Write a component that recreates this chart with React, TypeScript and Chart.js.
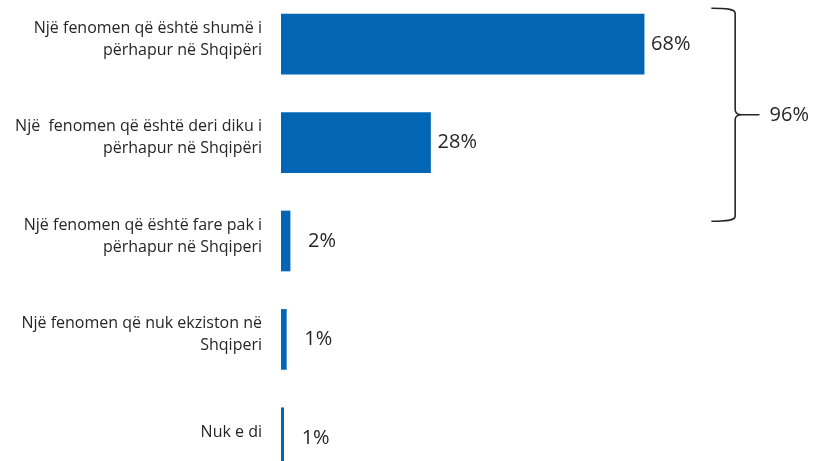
import React, { useEffect, useRef } from "react";
import { Chart, registerables } from "chart.js";

Chart.register(...registerables);

const categories: (string | string[])[] = [
  ["Një fenomen që është shumë i", "përhapur në Shqipëri"],
  ["Një  fenomen që është deri diku i", "përhapur në Shqipëri"],
  ["Një fenomen që është fare pak i", "përhapur në Shqiperi"],
  ["Një fenomen që nuk ekziston në", "Shqiperi"],
  "Nuk e di",
];
const values: number[] = [68, 28, 1.7, 1.0, 0.5];
const bracedIndices: number[] = [0, 1];

const BAR_COLOR = "#0366B4";
const TEXT_COLOR = "#262626";
const FONT = "'Open Sans', sans-serif";

const labelsPlugin = {
  id: "valueLabels",
  afterDatasetsDraw(chart: any) {
    const ctx = chart.ctx;
    const meta = chart.getDatasetMeta(0);
    ctx.save();
    ctx.fillStyle = TEXT_COLOR;
    ctx.font = `20px ${FONT}`;
    ctx.textAlign = "left";
    ctx.textBaseline = "middle";
    meta.data.forEach((bar: any, i: number) => {
      const v = values[i];
      const off = v < 5 ? 18 : 7;
      ctx.fillText(`${Math.round(v)}%`, bar.x + off, bar.y);
    });

    // brace around the first two categories
    const xs = chart.scales.x;
    const ys = chart.scales.y;
    const top = ys.getPixelForValue(bracedIndices[0]) - 36;
    const bottom = ys.getPixelForValue(bracedIndices[bracedIndices.length - 1] + 0.8);
    const mid = (top + bottom) / 2;
    const x0 = xs.getPixelForValue(80.6);
    const bx = xs.getPixelForValue(85.05);
    const tip = xs.getPixelForValue(89.6);
    ctx.strokeStyle = TEXT_COLOR;
    ctx.lineWidth = 1.6;
    ctx.beginPath();
    ctx.moveTo(x0, top);
    ctx.bezierCurveTo(x0 + 14, top, bx, top + 0.5, bx, top + 5);
    ctx.lineTo(bx, mid - 5);
    ctx.quadraticCurveTo(bx, mid, bx + 7, mid);
    ctx.lineTo(tip, mid);
    ctx.moveTo(bx + 7, mid);
    ctx.quadraticCurveTo(bx, mid, bx, mid + 5);
    ctx.lineTo(bx, bottom - 5);
    ctx.bezierCurveTo(bx, bottom - 0.5, x0 + 14, bottom, x0, bottom);
    ctx.stroke();

    const sum = bracedIndices.reduce((s, i) => s + values[i], 0);
    ctx.font = `20px ${FONT}`;
    ctx.fillText(`${Math.round(sum)}%`, xs.getPixelForValue(91.5), mid + 1);
    ctx.restore();
  },
};

export default function App() {
  const ref = useRef<HTMLCanvasElement>(null);
  useEffect(() => {
    if (!ref.current) return;
    const chart = new Chart(ref.current, {
      type: "bar",
      data: {
        labels: categories as any,
        datasets: [
          {
            data: values,
            backgroundColor: BAR_COLOR,
            borderWidth: 0,
            barThickness: 60,
          },
        ],
      },
      options: {
        indexAxis: "y",
        animation: false,
        responsive: false,
        layout: { padding: 0 },
        plugins: {
          legend: { display: false },
          tooltip: { enabled: false },
        },
        scales: {
          x: {
            display: false,
            min: 0,
            max: 100,
          },
          y: {
            afterFit: (scale: any) => {
              scale.width = 281;
              scale.paddingTop = 0;
              scale.paddingBottom = 0;
            },
            grid: { display: false, drawTicks: false },
            border: { display: false },
            ticks: {
              padding: 19,
              color: TEXT_COLOR,
              labelOffset: -5,
              font: { family: FONT, size: 16, lineHeight: "22px" as any },
            },
          },
        },
      },
      plugins: [labelsPlugin],
    });
    return () => chart.destroy();
  }, []);
  return (
    <div
      style={{
        position: "fixed",
        left: 0,
        top: 0,
        width: 815,
        height: 461,
        overflow: "hidden",
        background: "#fff",
      }}
    >
      <canvas
        ref={ref}
        width={815}
        height={492}
        style={{ position: "absolute", left: 0, top: -5, display: "block" }}
      />
    </div>
  );
}
